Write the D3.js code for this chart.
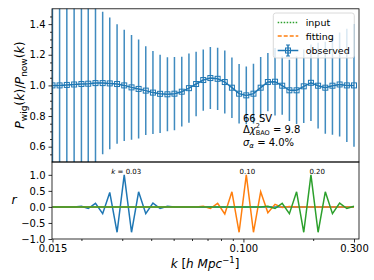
<!DOCTYPE html>
<html>
<head>
<meta charset="utf-8">
<script src="https://cdn.jsdelivr.net/npm/d3@7"></script>
<style>
body { margin: 0; background: #fff; }
svg { font-family: "DejaVu Sans", sans-serif; }
</style>
</head>
<body>
<svg id="chart" width="374" height="280"></svg>
<script>
// k bins (log spaced)
var kValues = [0.0150, 0.0161, 0.0173, 0.0186, 0.0200, 0.0214, 0.0230, 0.0247, 0.0265, 0.0285,
    0.0306, 0.0329, 0.0353, 0.0379, 0.0407, 0.0437, 0.0470, 0.0504, 0.0542, 0.0582,
    0.0625, 0.0671, 0.0720, 0.0774, 0.0831, 0.0892, 0.0958, 0.1029, 0.1105, 0.1187,
    0.1275, 0.1369, 0.1470, 0.1579, 0.1696, 0.1821, 0.1956, 0.2100, 0.2256, 0.2422,
    0.2601, 0.2794, 0.3000];

var ratioObs = [1.000, 1.000, 1.003, 1.006, 1.009, 1.011, 1.015, 1.015, 1.013, 1.009,
    1.000, 0.987, 0.977, 0.966, 0.953, 0.945, 0.942, 0.946, 0.959, 0.982,
    1.009, 1.035, 1.048, 1.043, 1.022, 0.985, 0.946, 0.935, 0.946, 0.985,
    1.022, 1.024, 0.998, 0.968, 0.968, 0.994, 1.017, 0.998, 0.985, 0.998,
    1.006, 1.000, 1.000];

var ratioErr = [1.20, 1.05, 0.92, 0.80, 0.70, 0.60, 0.52, 0.465, 0.43, 0.39,
    0.363, 0.342, 0.323, 0.29, 0.271, 0.255, 0.241, 0.239, 0.228, 0.226,
    0.21, 0.20, 0.202, 0.203, 0.205, 0.197, 0.194, 0.188, 0.195, 0.20,
    0.19, 0.22, 0.19, 0.20, 0.22, 0.24, 0.25, 0.28, 0.30, 0.32,
    0.34, 0.37, 0.40];

// correlation coefficients r for k = 0.03, 0.10, 0.20
var rK003 = [0, 0, 0, 0, 0.02, -0.05, 0.11, -0.21, 0.45, -0.79,
    1.0, -0.79, 0.47, -0.21, 0.12, -0.05, 0.02, 0, 0, 0,
    0, 0, 0, 0, 0, 0, 0, 0, 0, 0,
    0, 0, 0, 0, 0, 0, 0, 0, 0, 0,
    0, 0, 0];
var rK010 = [0, 0, 0, 0, 0, 0, 0, 0, 0, 0,
    0, 0, 0, 0, 0, 0, 0, 0, 0, 0,
    0, 0.02, -0.05, 0.11, -0.22, 0.47, -0.79, 1.0, -0.79, 0.47,
    -0.18, 0.08, -0.02, 0.01, 0, 0, 0, 0, 0, 0,
    0, 0, 0];
var rK020 = [0, 0, 0, 0, 0, 0, 0, 0, 0, 0,
    0, 0, 0, 0, 0, 0, 0, 0, 0, 0,
    0, 0, 0, 0, 0, 0, 0, 0, 0, 0,
    0.02, -0.05, 0.11, -0.21, 0.47, -0.79, 1.0, -0.79, 0.47, -0.21,
    0.12, -0.05, 0.02];

var rLabelK = [0.03, 0.10, 0.20];
var rLabelText = ["0.03", "0.10", "0.20"];

var yTicksTop = [0.6, 0.8, 1.0, 1.2, 1.4];
var yMinorTop = [0.55, 0.65, 0.7, 0.75, 0.85, 0.9, 0.95, 1.05, 1.1, 1.15, 1.25, 1.3, 1.35, 1.45];
var yTicksBottom = [-1.0, -0.5, 0.0, 0.5, 1.0];
var xTicks = [0.015, 0.1, 0.3];
var xTickLabels = ["0.015", "0.100", "0.300"];
var xMinor = [0.02, 0.03, 0.04, 0.05, 0.06, 0.07, 0.08, 0.09, 0.2];

var C0 = "#1f77b4", C1 = "#ff7f0e", C2 = "#2ca02c";

var svg = d3.select("#chart");

var x = d3.scaleLog().domain([0.01493, 0.3153]).range([52, 359]);
var yTop = d3.scaleLinear().domain([0.5, 1.5]).range([162, 8.8]);
var yBot = d3.scaleLinear().domain([-1.0, 1.4]).range([239, 162]);

var obs = kValues.map(function (k, i) { return { k: k, v: ratioObs[i], e: ratioErr[i] }; });

// clip paths
var defs = svg.append("defs");
defs.append("clipPath").attr("id", "clipTop").append("rect")
    .attr("x", 52).attr("y", yTop.range()[1]).attr("width", 307).attr("height", yTop.range()[0] - yTop.range()[1]);
defs.append("clipPath").attr("id", "clipBot").append("rect")
    .attr("x", 52).attr("y", 162).attr("width", 307).attr("height", 77);

// ---- top panel
var gTop = svg.append("g").attr("clip-path", "url(#clipTop)");

gTop.selectAll("line.err").data(obs).enter().append("line")
    .attr("class", "err")
    .attr("x1", function (d) { return x(d.k); })
    .attr("x2", function (d) { return x(d.k); })
    .attr("y1", function (d) { return yTop(d.v - d.e); })
    .attr("y2", function (d) { return yTop(d.v + d.e); })
    .attr("stroke", C0).attr("stroke-width", 1.5).attr("stroke-opacity", 0.85);

gTop.append("path").datum(obs)
    .attr("d", d3.line().x(function (d) { return x(d.k); }).y(function (d) { return yTop(d.v); }))
    .attr("fill", "none").attr("stroke", C0).attr("stroke-width", 1.5);

gTop.selectAll("rect.mk").data(obs).enter().append("rect")
    .attr("class", "mk")
    .attr("x", function (d) { return x(d.k) - 2.5; })
    .attr("y", function (d) { return yTop(d.v) - 2.5; })
    .attr("width", 5).attr("height", 5)
    .attr("fill", "none").attr("stroke", C0).attr("stroke-width", 1);

// text helper for mixed styled text
function richText(g, parts) {
    parts.forEach(function (p) {
        var t = g.append("tspan").text(p.t);
        if (p.it) t.attr("font-style", "italic");
        if (p.fs) t.attr("font-size", p.fs);
        if (p.dy) t.attr("dy", p.dy);
        if (p.dx) t.attr("dx", p.dx);
    });
}

// annotation
var ann = svg.append("g").attr("font-size", 10).attr("fill", "#000");
ann.append("text").attr("x", 243).attr("y", 121.5).text("66 SV");
richText(ann.append("text").attr("x", 243).attr("y", 133.3), [
    { t: "Δ" }, { t: "χ", it: true }, { t: "2", fs: 6.5, dy: -5 }, { t: "BAO", fs: 6.5, dy: 6.8, dx: -4.1 }, { t: " = 9.8", dy: -1.8 }
]);
richText(ann.append("text").attr("x", 243).attr("y", 145.5), [
    { t: "σ", it: true }, { t: "α", it: true, fs: 7, dy: 2 }, { t: " = 4.0%", dy: -2 }
]);

// legend
var leg = svg.append("g");
leg.append("rect").attr("x", 273.3).attr("y", 13).attr("width", 81).attr("height", 45).attr("rx", 2.5)
    .attr("fill", "#fff").attr("fill-opacity", 0.8).attr("stroke", "#d0d0d0").attr("stroke-width", 0.8);
var legRows = [
    { name: "input", color: C2, dash: "1.5,1.5", y: 22.5 },
    { name: "fitting", color: C1, dash: "4,2", y: 36 },
    { name: "observed", color: C0, dash: null, y: 50.5 }
];
legRows.forEach(function (r) {
    leg.append("line").attr("x1", 277.7).attr("x2", 298.3).attr("y1", r.y).attr("y2", r.y)
        .attr("stroke", r.color).attr("stroke-width", 1.5).attr("stroke-dasharray", r.dash);
    leg.append("text").attr("x", 305.7).attr("y", r.y + 3.5).attr("font-size", 9.5).text(r.name);
});
var lx = 288, ly = 50.5;
leg.append("line").attr("x1", lx).attr("x2", lx).attr("y1", ly - 5.5).attr("y2", ly + 5.5)
    .attr("stroke", C0).attr("stroke-width", 1.5);
leg.selectAll("line.cap").data([ly - 5.5, ly + 5.5]).enter().append("line")
    .attr("x1", lx - 2).attr("x2", lx + 2).attr("y1", function (d) { return d; }).attr("y2", function (d) { return d; })
    .attr("stroke", C0).attr("stroke-width", 1);
leg.append("rect").attr("x", lx - 2.5).attr("y", ly - 2.5).attr("width", 5).attr("height", 5)
    .attr("fill", "none").attr("stroke", C0).attr("stroke-width", 1);

// ---- bottom panel
var gBot = svg.append("g").attr("clip-path", "url(#clipBot)");
var rLine = d3.line().x(function (d) { return x(d[0]); }).y(function (d) { return yBot(d[1]); });
[[rK003, C0], [rK010, C1], [rK020, C2]].forEach(function (s) {
    gBot.append("path").datum(kValues.map(function (k, i) { return [k, s[0][i]]; }))
        .attr("d", rLine).attr("fill", "none").attr("stroke", s[1]).attr("stroke-width", 1.5);
});

var rl = svg.append("g").attr("font-size", 7).attr("text-anchor", "middle");
rLabelK.forEach(function (k, i) {
    var t = rl.append("text").attr("x", x(k) + 4).attr("y", 174.3);
    if (i == 0) {
        richText(t, [{ t: "k", it: true }, { t: " = " + rLabelText[i] }]);
    } else {
        t.text(rLabelText[i]);
    }
});

// ---- axes
function styleAxis(g) {
    g.select(".domain").remove();
    g.selectAll("text").attr("font-size", 10).attr("fill", "#000").attr("font-family", "DejaVu Sans, sans-serif");
    g.selectAll("line").attr("stroke", "#000").attr("stroke-width", 0.8);
}

svg.append("g").attr("transform", "translate(52,0)")
    .call(d3.axisLeft(yTop).tickValues(yTicksTop).tickFormat(d3.format(".1f")).tickSize(3.5).tickPadding(3))
    .call(styleAxis);
svg.append("g").attr("transform", "translate(52,0)")
    .call(d3.axisLeft(yTop).tickValues(yMinorTop).tickFormat("").tickSize(2))
    .call(styleAxis);
svg.append("g").attr("transform", "translate(52,0)")
    .call(d3.axisLeft(yBot).tickValues(yTicksBottom).tickFormat(d3.format(".1f")).tickSize(3.5).tickPadding(3))
    .call(styleAxis);
svg.append("g").attr("transform", "translate(0,239)")
    .call(d3.axisBottom(x).tickValues(xTicks).tickFormat(function (d, i) { return xTickLabels[i]; }).tickSize(3.5).tickPadding(2))
    .call(styleAxis);
svg.append("g").attr("transform", "translate(0,239)")
    .call(d3.axisBottom(x).tickValues(xMinor).tickFormat("").tickSize(2))
    .call(styleAxis);

// frames
svg.append("rect").attr("x", 52).attr("y", yTop.range()[1]).attr("width", 307).attr("height", 162 - yTop.range()[1])
    .attr("fill", "none").attr("stroke", "#000").attr("stroke-width", 0.8);
svg.append("rect").attr("x", 52).attr("y", 162).attr("width", 307).attr("height", 77)
    .attr("fill", "none").attr("stroke", "#000").attr("stroke-width", 0.8);

// axis labels
richText(svg.append("text").attr("transform", "translate(24,85) rotate(-90)")
    .attr("text-anchor", "middle").attr("font-size", 12.5), [
    { t: "P", it: true }, { t: "wig", fs: 9, dy: 2.5 }, { t: "(", dy: -2.5 }, { t: "k", it: true }, { t: ")/" },
    { t: "P", it: true }, { t: "now", fs: 9, dy: 2.5 }, { t: "(", dy: -2.5 }, { t: "k", it: true }, { t: ")" }
]);
svg.append("text").attr("x", 14).attr("y", 204).attr("text-anchor", "middle")
    .attr("font-size", 12.5).attr("font-style", "italic").text("r");
richText(svg.append("text").attr("x", 205).attr("y", 268).attr("text-anchor", "middle").attr("font-size", 12), [
    { t: "k", it: true }, { t: " [" }, { t: "h", it: true }, { t: " " }, { t: "Mpc", it: true },
    { t: "−1", fs: 8.5, dy: -5 }, { t: "]", dy: 5 }
]);
</script>
</body>
</html>
